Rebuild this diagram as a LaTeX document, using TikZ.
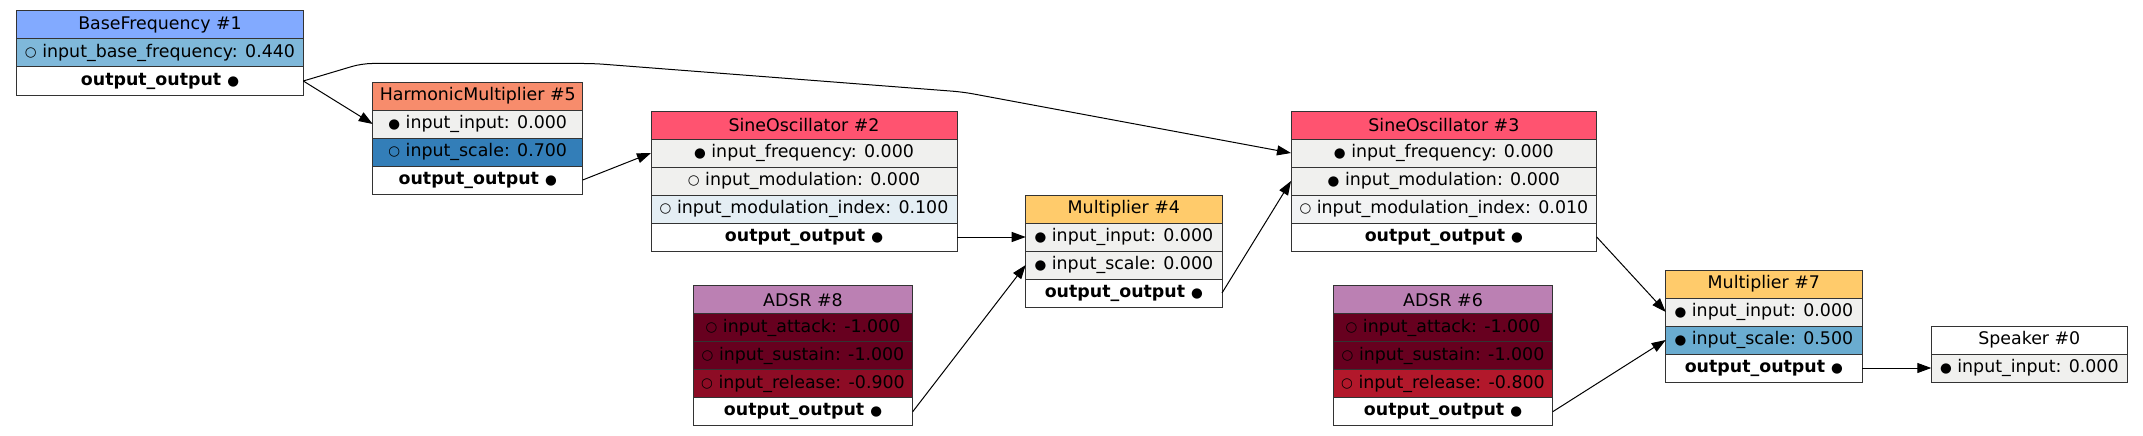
\documentclass[tikz,border=0pt]{standalone}
\usepackage{fontspec}
\setmainfont{DejaVu Sans}
\usetikzlibrary{arrows.meta}
\newcommand\rowfont{\fontsize{17.4}{20}\selectfont}
\newcommand\dotF{{\fontsize{13.5}{15}\selectfont ●}}
\newcommand\dotE{\raisebox{0.6pt}{\fontsize{13.5}{15}\selectfont ○}}
\definecolor{hBlue}{HTML}{82AAFF}
\definecolor{hRed}{HTML}{FF5370}
\definecolor{hOrange}{HTML}{F78C6C}
\definecolor{hYellow}{HTML}{FFCB6B}
\definecolor{hPurple}{HTML}{BB80B3}
\definecolor{rGray}{HTML}{F0F0EE}
\definecolor{rBF}{HTML}{7FB8DA}
\definecolor{rSeven}{HTML}{337EB8}
\definecolor{rFive}{HTML}{6AACD0}
\definecolor{rOne}{HTML}{E4EEF4}
\definecolor{rZeroOne}{HTML}{F2F3F4}
\definecolor{rMinOne}{HTML}{67001F}
\definecolor{rMinNine}{HTML}{8D0C25}
\definecolor{rMinEight}{HTML}{B2182B}
\begin{document}
\begin{tikzpicture}[x=1pt,y=-1pt,
  cell/.style={draw=black!80, line width=1pt, minimum height=28pt, inner sep=0pt, outer sep=0pt, anchor=north west, font=\rowfont, text=black},
  outcell/.style={cell, fill=white, font=\rowfont\bfseries},
  conn/.style={line width=1pt, -{Triangle[length=14pt,width=10pt]}},
]
\useasboundingbox (0,0) rectangle (2143,436);

% BaseFrequency #1
\node[cell, fill=hBlue, minimum width=286.6pt] (bfh) at (16.7,11) {BaseFrequency \#1};
\node[cell, fill=rBF, minimum width=286.6pt] (bfi) at (16.7,39) {\dotE\ input\_base\_frequency: 0.440};
\node[outcell, minimum width=286.6pt] (bfo) at (16.7,67) {output\_output \dotF};

% HarmonicMultiplier #5
\node[cell, fill=hOrange, minimum width=210pt] (hmh) at (372.7,82) {HarmonicMultiplier \#5};
\node[cell, fill=rGray, minimum width=210pt] (hmi) at (372.7,110) {\dotF\ input\_input: 0.000};
\node[cell, fill=rSeven, minimum width=210pt] (hms) at (372.7,138) {\dotE\ input\_scale: 0.700};
\node[outcell, minimum width=210pt] (hmo) at (372.7,166) {output\_output \dotF};

% SineOscillator #2
\node[cell, fill=hRed, minimum width=306pt] (so2h) at (651,111) {SineOscillator \#2};
\node[cell, fill=rGray, minimum width=306pt] (so2f) at (651,139) {\dotF\ input\_frequency: 0.000};
\node[cell, fill=rGray, minimum width=306pt] (so2m) at (651,167) {\dotE\ input\_modulation: 0.000};
\node[cell, fill=rOne, minimum width=306pt] (so2x) at (651,195) {\dotE\ input\_modulation\_index: 0.100};
\node[outcell, minimum width=306pt] (so2o) at (651,223) {output\_output \dotF};

% Multiplier #4
\node[cell, fill=hYellow, minimum width=196.3pt] (m4h) at (1025.7,195) {Multiplier \#4};
\node[cell, fill=rGray, minimum width=196.3pt] (m4i) at (1025.7,223) {\dotF\ input\_input: 0.000};
\node[cell, fill=rGray, minimum width=196.3pt] (m4s) at (1025.7,251) {\dotF\ input\_scale: 0.000};
\node[outcell, minimum width=196.3pt] (m4o) at (1025.7,279) {output\_output \dotF};

% ADSR #8
\node[cell, fill=hPurple, minimum width=219.4pt] (a8h) at (693.3,285.7) {ADSR \#8};
\node[cell, fill=rMinOne, minimum width=219.4pt] (a8a) at (693.3,313.7) {\dotE\ input\_attack: -1.000};
\node[cell, fill=rMinOne, minimum width=219.4pt] (a8s) at (693.3,341.7) {\dotE\ input\_sustain: -1.000};
\node[cell, fill=rMinNine, minimum width=219.4pt] (a8r) at (693.3,369.7) {\dotE\ input\_release: -0.900};
\node[outcell, minimum width=219.4pt] (a8o) at (693.3,397.7) {output\_output \dotF};

% SineOscillator #3
\node[cell, fill=hRed, minimum width=305.7pt] (so3h) at (1291,111) {SineOscillator \#3};
\node[cell, fill=rGray, minimum width=305.7pt] (so3f) at (1291,139) {\dotF\ input\_frequency: 0.000};
\node[cell, fill=rGray, minimum width=305.7pt] (so3m) at (1291,167) {\dotF\ input\_modulation: 0.000};
\node[cell, fill=rZeroOne, minimum width=305.7pt] (so3x) at (1291,195) {\dotE\ input\_modulation\_index: 0.010};
\node[outcell, minimum width=305.7pt] (so3o) at (1291,223) {output\_output \dotF};

% ADSR #6
\node[cell, fill=hPurple, minimum width=219.4pt] (a6h) at (1333.3,285.7) {ADSR \#6};
\node[cell, fill=rMinOne, minimum width=219.4pt] (a6a) at (1333.3,313.7) {\dotE\ input\_attack: -1.000};
\node[cell, fill=rMinOne, minimum width=219.4pt] (a6s) at (1333.3,341.7) {\dotE\ input\_sustain: -1.000};
\node[cell, fill=rMinEight, minimum width=219.4pt] (a6r) at (1333.3,369.7) {\dotE\ input\_release: -0.800};
\node[outcell, minimum width=219.4pt] (a6o) at (1333.3,397.7) {output\_output \dotF};

% Multiplier #7
\node[cell, fill=hYellow, minimum width=196.3pt] (m7h) at (1665.7,270) {Multiplier \#7};
\node[cell, fill=rGray, minimum width=196.3pt] (m7i) at (1665.7,298) {\dotF\ input\_input: 0.000};
\node[cell, fill=rFive, minimum width=196.3pt] (m7s) at (1665.7,326) {\dotF\ input\_scale: 0.500};
\node[outcell, minimum width=196.3pt] (m7o) at (1665.7,354) {output\_output \dotF};

% Speaker #0
\node[cell, fill=white, minimum width=196pt] (sph) at (1931.3,326) {Speaker \#0};
\node[cell, fill=rGray, minimum width=196pt] (spi) at (1931.3,354) {\dotF\ input\_input: 0.000};

% connectors
\coordinate (k1) at (362,63.5);
\coordinate (k2) at (594,63.5);
\coordinate (k3) at (963,92);
\draw[conn] (bfo.east) -- (hmi.west);
\draw[conn, rounded corners=10pt] (bfo.east) -- (k1) -- (k2) -- (k3) -- (so3f.west);
\draw[conn] (hmo.east) -- (so2f.west);
\draw[conn] (so2o.east) -- (m4i.west);
\draw[conn] (a8o.east) -- (m4s.west);
\draw[conn] (m4o.east) -- (so3m.west);
\draw[conn] (so3o.east) -- (m7i.west);
\draw[conn] (a6o.east) -- (m7s.west);
\draw[conn] (m7o.east) -- (spi.west);
\end{tikzpicture}
\end{document}
